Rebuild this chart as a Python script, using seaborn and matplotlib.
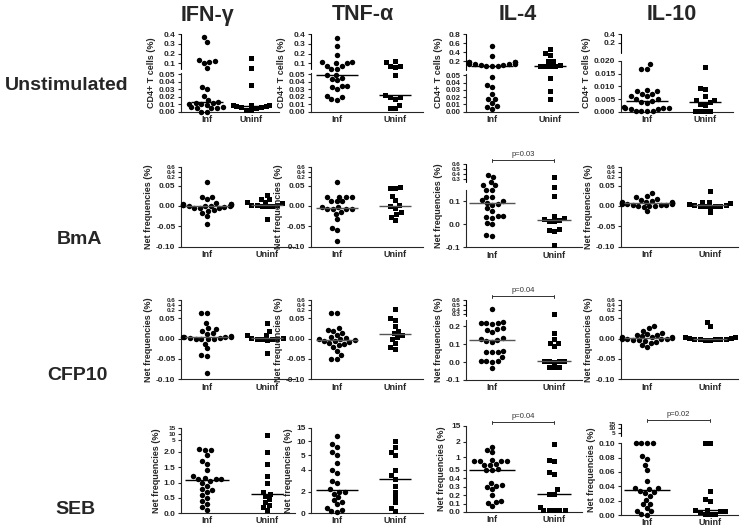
import numpy as np
import pandas as pd
import matplotlib
matplotlib.use('Agg')
import matplotlib.pyplot as plt
import seaborn as sns
import warnings

warnings.filterwarnings('ignore')

groups = ['Inf', 'Uninf']
cytokines = ['IFN-\u03b3', 'TNF-\u03b1', 'IL-4', 'IL-10']
stimuli = ['Unstimulated', 'BmA', 'CFP10', 'SEB']

# --- Unstimulated, CD4+ T cells (%) ---
ifn_unstim_inf = [0.37, 0.32, 0.13, 0.12, 0.11, 0.10, 0.08, 0.033, 0.030, 0.021, 0.016, 0.013,
                  0.0125, 0.012, 0.011, 0.010, 0.009, 0.006, 0.006, 0.005, 0.005, 0.005, 0.0005, 0.0005]
ifn_unstim_uninf = [0.16, 0.08, 0.036, 0.009, 0.009, 0.009, 0.008, 0.0075, 0.006, 0.006, 0.005, 0.003, 0.002]
tnf_unstim_inf = [0.36, 0.28, 0.19, 0.11, 0.11, 0.10, 0.10, 0.09, 0.09, 0.075, 0.075, 0.049,
                  0.049, 0.045, 0.044, 0.042, 0.035, 0.034, 0.033, 0.03, 0.021, 0.02, 0.017, 0.016]
tnf_unstim_uninf = [0.12, 0.11, 0.09, 0.09, 0.085, 0.049, 0.022, 0.02, 0.02, 0.017, 0.009, 0.005, 0.005]
il4_unstim_inf = [0.53, 0.31, 0.19, 0.19, 0.19, 0.19, 0.13, 0.13, 0.13, 0.13, 0.12, 0.12, 0.10,
                  0.10, 0.10, 0.048, 0.036, 0.034, 0.024, 0.018, 0.017, 0.012, 0.008, 0.007, 0.004]
il4_unstim_uninf = [0.48, 0.38, 0.35, 0.21, 0.2, 0.12, 0.1, 0.1, 0.1, 0.1, 0.046, 0.029, 0.018]
il10_unstim_inf = [0.0188, 0.017, 0.017, 0.0085, 0.008, 0.008, 0.007, 0.007, 0.006, 0.006, 0.005, 0.005, 0.0042,
                   0.004, 0.0035, 0.0017, 0.0015, 0.0015, 0.0015, 0.0012, 0.0012, 0.0001, 0.0001, 0.0001, 0.0001]
il10_unstim_uninf = [0.0175, 0.0095, 0.009, 0.006, 0.0045, 0.0045, 0.0038, 0.003, 0.0028, 0.0001, 0.0001, 0.0001, 0.0001]

# --- BmA, net frequencies (%) ---
ifn_bma_inf = [0.12, 0.023, 0.021, 0.017, 0.006, 0.005, 0.005, 0.004, 0.003, 0.001, 0.001, 0.0,
               0.0, -0.001, -0.001, -0.002, -0.004, -0.005, -0.006, -0.011, -0.012, -0.018, -0.025, -0.044]
ifn_bma_uninf = [0.027, 0.018, 0.016, 0.01, 0.009, 0.007, 0.003, 0.002, 0.001, 0.0, 0.0, -0.001, -0.032]
tnf_bma_inf = [0.115, 0.023, 0.022, 0.022, 0.021, 0.012, 0.011, 0.011, -0.002, -0.002, -0.008, -0.008,
               -0.008, -0.008, -0.015, -0.019, -0.032, -0.053, -0.06, -0.086]
tnf_bma_uninf = [0.046, 0.045, 0.044, 0.024, 0.014, 0.002, -0.001, -0.005, -0.015, -0.021, -0.026, -0.035]
il4_bma_inf = [0.375, 0.34, 0.26, 0.21, 0.21, 0.15, 0.15, 0.12, 0.12, 0.105, 0.1, 0.095, 0.09, 0.085,
               0.07, 0.06, 0.037, 0.035, 0.033, 0.03, 0.007, 0.0, -0.048, -0.05]
il4_bma_uninf = [0.33, 0.185, 0.125, 0.036, 0.029, 0.025, 0.02, 0.016, 0.013, -0.022, -0.024, -0.03, -0.09]
il10_bma_inf = [0.032, 0.024, 0.022, 0.018, 0.014, 0.013, 0.01, 0.009, 0.009, 0.008, 0.008, 0.007, 0.006,
                0.006, 0.005, 0.005, 0.004, 0.003, 0.002, 0.001, 0.0, 0.0, -0.001, -0.002, -0.013]
il10_bma_uninf = [0.037, 0.01, 0.01, 0.007, 0.004, 0.002, 0.001, 0.0, 0.0, -0.001, -0.001, -0.002, -0.016]

# --- CFP10, net frequencies (%) ---
ifn_cfp_inf = [0.15, 0.14, 0.039, 0.026, 0.024, 0.02, 0.014, 0.012, 0.006, 0.005, 0.005, 0.004,
               0.003, 0.002, 0.001, 0.0, 0.0, -0.001, -0.002, -0.012, -0.024, -0.04, -0.043, -0.085]
ifn_cfp_uninf = [0.039, 0.019, 0.009, 0.008, 0.002, 0.001, 0.0, 0.0, -0.001, -0.002, -0.003, -0.035]
tnf_cfp_inf = [0.15, 0.14, 0.025, 0.022, 0.02, 0.015, 0.01, 0.005, 0.002, 0.0, -0.002, -0.004,
               -0.005, -0.006, -0.008, -0.01, -0.012, -0.015, -0.02, -0.03, -0.04, -0.05, -0.05]
tnf_cfp_uninf = [0.25, 0.05, 0.045, 0.03, 0.02, 0.015, 0.008, 0.005, 0.0, -0.01, -0.02, -0.025]
il4_cfp_inf = [0.41, 0.225, 0.22, 0.22, 0.22, 0.215, 0.19, 0.185, 0.18, 0.17, 0.135, 0.13, 0.125,
               0.12, 0.115, 0.06, 0.058, 0.057, 0.056, 0.027, 0.006, 0.005, 0.004, 0.003, -0.033]
il4_cfp_uninf = [0.3, 0.165, 0.13, 0.11, 0.105, 0.09, 0.006, 0.005, 0.005, 0.004, 0.003, -0.025, -0.028, -0.028]
il10_cfp_inf = [0.03, 0.025, 0.02, 0.015, 0.012, 0.01, 0.008, 0.006, 0.005, 0.004, 0.003, 0.002,
                0.001, 0.0, 0.0, -0.001, -0.002, -0.003, -0.004, -0.005, -0.008, -0.01, -0.015, -0.02]
il10_cfp_uninf = [0.04, 0.03, 0.005, 0.003, 0.002, 0.001, 0.0, 0.0, 0.0, -0.001, -0.002, -0.003, -0.004]

# --- SEB, net frequencies (%) ---
ifn_seb_inf = [2.7, 2.6, 2.5, 1.9, 1.7, 1.6, 1.4, 1.2, 1.15, 1.1, 1.1, 1.1, 1.05, 1.0, 0.9, 0.8,
               0.75, 0.7, 0.6, 0.5, 0.4, 0.3, 0.2, 0.1]
ifn_seb_uninf = [9, 2.0, 1.6, 1.2, 1.0, 0.7, 0.62, 0.55, 0.45, 0.35, 0.25, 0.2, 0.1]
tnf_seb_inf = [12, 9, 8, 6, 5, 4.5, 4, 3.7, 3, 2.8, 2.2, 2.0, 2.0, 1.8, 1.5, 1.2, 1, 0.8, 0.5, 0.3, 0.2, 0.1]
tnf_seb_uninf = [10, 8, 6, 5, 4, 3.5, 3.2, 2.5, 2, 1.5, 1, 0.5, 0.2]
il4_seb_inf = [1.7, 1.5, 1.33, 0.9, 0.86, 0.84, 0.84, 0.83, 0.72, 0.7, 0.7, 0.51, 0.52, 0.5,
               0.34, 0.32, 0.31, 0.3, 0.27, 0.2, 0.13, 0.12, 0.11, 0.07]
il4_seb_uninf = [1.87, 0.89, 0.83, 0.48, 0.45, 0.27, 0.22, 0.22, 0.06, 0.02, 0.02, 0.02, 0.02, 0.02]
il10_seb_inf = [0.1, 0.1, 0.1, 0.1, 0.082, 0.078, 0.07, 0.063, 0.048, 0.038, 0.037, 0.036,
                0.034, 0.032, 0.031, 0.027, 0.021, 0.016, 0.015, 0.01, 0.006, 0.005, 0.001, 0.0]
il10_seb_uninf = [0.1, 0.1, 0.034, 0.022, 0.019, 0.007, 0.006, 0.0055, 0.004, 0.002, 0.001, 0.001, 0.007]

values = [
    [(ifn_unstim_inf, ifn_unstim_uninf), (tnf_unstim_inf, tnf_unstim_uninf),
     (il4_unstim_inf, il4_unstim_uninf), (il10_unstim_inf, il10_unstim_uninf)],
    [(ifn_bma_inf, ifn_bma_uninf), (tnf_bma_inf, tnf_bma_uninf),
     (il4_bma_inf, il4_bma_uninf), (il10_bma_inf, il10_bma_uninf)],
    [(ifn_cfp_inf, ifn_cfp_uninf), (tnf_cfp_inf, tnf_cfp_uninf),
     (il4_cfp_inf, il4_cfp_uninf), (il10_cfp_inf, il10_cfp_uninf)],
    [(ifn_seb_inf, ifn_seb_uninf), (tnf_seb_inf, tnf_seb_uninf),
     (il4_seb_inf, il4_seb_uninf), (il10_seb_inf, il10_seb_uninf)],
]

# p values shown above the IL-4 / IL-10 panels
pvals = {(1, 2): 'p=0.03', (2, 2): 'p=0.04', (3, 2): 'p=0.04', (3, 3): 'p=0.02'}


# --- broken y axes (Prism style), set as piecewise linear scales ---
def piecewise(vals, pos):
    vals = np.asarray(vals, float)
    pos = np.asarray(pos, float)

    def ext(v, a, b):
        v = np.asarray(v, float)
        out = np.interp(v, a, b)
        out = np.where(v < a[0], b[0] + (v - a[0]) * (b[1] - b[0]) / (a[1] - a[0]), out)
        out = np.where(v > a[-1], b[-1] + (v - a[-1]) * (b[-1] - b[-2]) / (a[-1] - a[-2]), out)
        return out

    return (lambda v: ext(v, vals, pos)), (lambda p: ext(p, pos, vals))


def axis_spec(vals, pix, ticks, labels, spine):
    return dict(vals=vals, pix=pix, ticks=ticks, labels=labels, spine=spine)


low_t = [0, 0.01, 0.02, 0.03, 0.04, 0.05]
low_l = ['0.00', '0.01', '0.02', '0.03', '0.04', '0.05']
net_t = [-0.1, -0.05, 0, 0.05, 0.2, 0.4, 0.6]
net_l = ['-0.10', '-0.05', '0.00', '0.05', '0.2', '0.4', '0.6']

row1_ifn = axis_spec([0, 0.05, 0.1, 0.4], [112, 74.3, 63.3, 34.3], low_t + [0.1, 0.2, 0.3, 0.4],
                     low_l + ['0.1', '0.2', '0.3', '0.4'], [(0, 0.055), (0.075, 0.4)])
row1_il4 = axis_spec([0, 0.05, 0.1, 0.8], [111.7, 75.3, 65.8, 34.3], low_t + [0.2, 0.4, 0.6, 0.8],
                     low_l + ['0.2', '0.4', '0.6', '0.8'], [(0, 0.055), (0.08, 0.8)])
row1_il10 = axis_spec([0, 0.02, 0.2, 0.4], [111.7, 61, 42.7, 34.3],
                      [0, 0.005, 0.01, 0.015, 0.02, 0.2, 0.4],
                      ['0.000', '0.005', '0.010', '0.015', '0.020', '0.2', '0.4'], [(0, 0.021), (0.1, 0.4)])
row2_net = axis_spec([-0.1, 0.05, 0.2, 0.6], [246.7, 185.5, 177, 166.5], net_t, net_l, [(-0.1, 0.6)])
row2_il4 = axis_spec([-0.1, 0.15, 0.3, 0.6], [247.3, 190, 178.7, 164],
                     [-0.1, 0, 0.1, 0.3, 0.4, 0.5, 0.6], ['-0.1', '0.0', '0.1', '0.3', '0.4', '0.5', '0.6'],
                     [(-0.1, 0.15), (0.26, 0.6)])
row3_net = axis_spec([-0.1, 0.05, 0.2, 0.6], [379.3, 318.3, 310, 300], net_t, net_l, [(-0.1, 0.6)])
row3_il4 = axis_spec([-0.1, 0.25, 0.3, 0.6], [380, 317.5, 314.3, 300],
                     [-0.1, 0, 0.1, 0.2, 0.3, 0.4, 0.5, 0.6],
                     ['-0.1', '0.0', '0.1', '0.2', '0.3', '0.4', '0.5', '0.6'], [(-0.1, 0.235), (0.275, 0.6)])
row4_ifn = axis_spec([0, 2.0, 5, 10, 15], [513, 452, 440, 434, 428], [0, 0.5, 1.0, 1.5, 2.0, 5, 10, 15],
                     ['0.0', '0.5', '1.0', '1.5', '2.0', '5', '10', '15'], [(0, 15)])
row4_tnf = axis_spec([0, 4, 5, 10, 15], [513, 470, 455, 441, 428], [0, 2, 4, 5, 10, 15],
                     ['0', '2', '4', '5', '10', '15'], [(0, 15)])
row4_il4 = axis_spec([0, 0.5, 1, 2, 15], [512, 470, 457, 442, 426], [0, 0.1, 0.2, 0.3, 0.4, 0.5, 1, 2, 15],
                     ['0.0', '0.1', '0.2', '0.3', '0.4', '0.5', '1', '2', '15'], [(0, 15)])
row4_il10 = axis_spec([0, 0.1, 5, 10, 15], [515, 443.3, 432.7, 428.3, 424],
                      [0, 0.02, 0.04, 0.06, 0.08, 0.1, 5, 10, 15],
                      ['0.00', '0.02', '0.04', '0.06', '0.08', '0.10', '5', '10', '15'], [(0, 0.103), (3.5, 15)])

specs = [
    [row1_ifn, row1_ifn, row1_il4, row1_il10],
    [row2_net, row2_net, row2_il4, row2_net],
    [row3_net, row3_net, row3_il4, row3_net],
    [row4_ifn, row4_tnf, row4_il4, row4_il10],
]

W, H = 747, 526
col_x = [181, 311, 466, 621]      # y-axis position of each column (pixels)
cat_gap = [[44, 58, 58, 58], [60, 58, 62, 63], [60, 58, 62, 63], [60, 58, 62, 63]]
first_off, last_off = 26, 28
title_x = [207, 363, 518, 672]
row_lab = [(67, 85), (80, 240), (77, 375), (75, 510)]

sns.set_style('ticks')
plt.rcParams['font.family'] = ['Liberation Sans', 'DejaVu Sans']

fig = plt.figure(figsize=(W / 100, H / 100), dpi=100)

for r, stim in enumerate(stimuli):
    for c, cyt in enumerate(cytokines):
        sp = specs[r][c]
        pix = sp['pix']
        gap = cat_gap[r][c]
        width = first_off + gap + last_off
        ax = fig.add_axes([col_x[c] / W, 1 - pix[0] / H, width / W, (pix[0] - pix[-1]) / H])
        fwd, inv = piecewise(sp['vals'], [pix[0] - p for p in pix])
        ax.set_yscale('function', functions=(fwd, inv))
        ax.set_ylim(sp['vals'][0], sp['vals'][-1])

        inf, uninf = values[r][c]
        df_inf = pd.DataFrame({'group': 'Inf', 'value': inf})
        df_un = pd.DataFrame({'group': 'Uninf', 'value': uninf})
        sns.swarmplot(data=df_inf, x='group', y='value', order=groups, marker='o', color='black',
                      size=3.9, ax=ax, clip_on=False, zorder=3)
        sns.swarmplot(data=df_un, x='group', y='value', order=groups, marker='s', color='black',
                      size=3.6, ax=ax, clip_on=False, zorder=3)

        line_c = 'black' if r in (0, 3) else '#555555'
        ax.hlines(np.median(inf), -0.37, 0.37, color=line_c, lw=1.0, zorder=4)
        ax.hlines(np.median(uninf), 1 - 0.27, 1 + 0.27, color=line_c, lw=1.0, zorder=4)

        ax.set_xlim(-first_off / gap, 1 + last_off / gap)
        ax.set_ylim(sp['vals'][0], sp['vals'][-1])
        ax.set_xticks([0, 1])
        ax.set_xticklabels(groups, fontsize=6.5, fontweight='bold')
        ax.set_yticks(sp['ticks'])
        ax.set_yticklabels(sp['labels'], fontsize=6.0, fontweight='bold')
        # shrink tick labels that sit in the squeezed part above an axis break
        tick_px = fwd(np.array(sp['ticks'], float))
        for i, lab in enumerate(ax.get_yticklabels()):
            near = np.delete(np.abs(tick_px - tick_px[i]), i).min()
            if near < 7.5:
                lab.set_fontsize(max(4.6, near / 1.3))
        ax.minorticks_off()
        ax.tick_params(axis='x', length=0, pad=2.5)
        ax.tick_params(axis='y', length=2.5, width=0.8, pad=1.5)
        ax.set_xlabel('')
        ax.set_ylabel('CD4+ T cells (%)' if r == 0 else 'Net frequencies (%)',
                      fontsize=6.5, fontweight='bold', labelpad=2)

        for s in ['top', 'right']:
            ax.spines[s].set_visible(False)
        for s in ['left', 'bottom']:
            ax.spines[s].set_linewidth(0.8)
        segs = sp['spine']
        ax.spines['left'].set_bounds(*segs[0])
        for lo, hi in segs[1:]:
            ax.plot([0, 0], [lo, hi], color='black', lw=0.8, transform=ax.get_yaxis_transform(),
                    clip_on=False)

        if (r, c) in pvals:
            h = pix[0] - pix[-1]
            yb = (pix[0] - pix[-1] + 4) / h
            cap = 1.5 / h
            tr = ax.get_xaxis_transform()
            ax.plot([0, 1], [yb, yb], color='#333333', lw=0.7, transform=tr, clip_on=False)
            for xx in (0, 1):
                ax.plot([xx, xx], [yb - cap, yb + cap], color='#333333', lw=0.7, transform=tr, clip_on=False)
            ax.text(0.5, yb + 2 / h, pvals[(r, c)], transform=tr, ha='center', va='bottom',
                    fontsize=5.5, color='#333333')

for c, cyt in enumerate(cytokines):
    fig.text(title_x[c] / W, 1 - 15 / H, cyt, ha='center', va='center', fontsize=15.5, fontweight='bold')
for (x, y), stim in zip(row_lab, stimuli):
    fig.text(x / W, 1 - y / H, stim, ha='center', va='center', fontsize=14, fontweight='bold')

fig.savefig('out.png', dpi=100)
